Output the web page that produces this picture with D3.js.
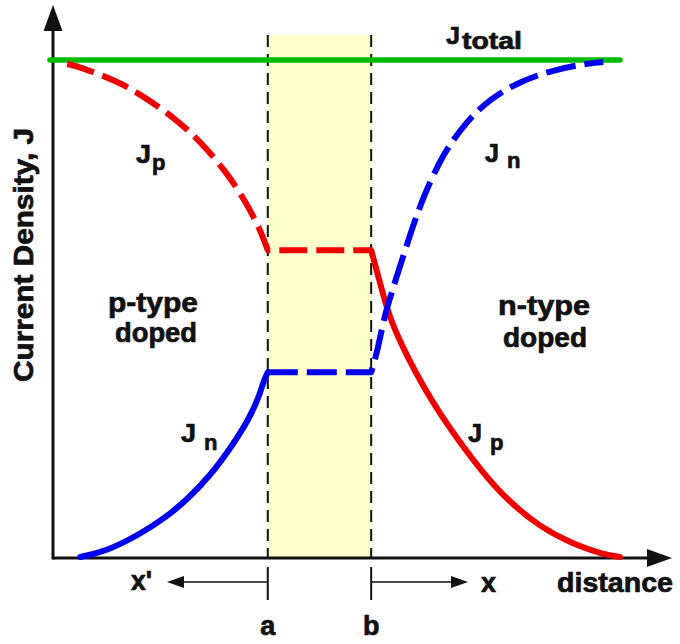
<!DOCTYPE html>
<html lang="en">
<head>
<meta charset="UTF-8">
<title>Current Density</title>
<script src="https://d3js.org/d3.v7.min.js"></script>
<style>
  html, body { margin: 0; padding: 0; background: #fff; }
  svg text { font-family: "Liberation Sans", Arial, Helvetica, sans-serif; font-weight: bold; fill: #111; stroke: #111; stroke-width: 0.7; }
</style>
</head>
<body>
<div id="chart"></div>
<script>
// boundaries of the depletion region (a, b) on the distance axis
const edges = [34.7, 51.4];
const edgeNames = ["a", "b"];

// total current density (constant)
const jTotal = 1.0;
const totalSpan = [-0.5, 91.6];

// J_p : hole current, p side (dashed), inside region, n side (solid)
const jpLeft = [[2.3,0.992],[4.4,0.986],[10.3,0.958],[14.5,0.928],[19.4,0.886],[23.7,0.838],[28.1,0.774],[31.3,0.712],[33.4,0.660],[34.1,0.638],[34.7,0.618]];
const jpMid = 0.618;
const jpRight = [[51.4,0.618],[53.0,0.545],[54.4,0.480],[57.2,0.405],[59.8,0.345],[62.5,0.290],[65.3,0.240],[69.0,0.178],[73.3,0.117],[78.7,0.062],[84.0,0.028],[88.4,0.009],[91.6,0.002]];

// J_n : electron current, p side (solid), inside region, n side (dashed)
const jnLeft = [[4.4,0.002],[8.7,0.014],[14.1,0.048],[18.4,0.083],[21.7,0.118],[25.4,0.165],[29.1,0.228],[31.8,0.282],[33.4,0.328],[34.0,0.355],[34.7,0.373]];
const jnMid = 0.373;
const jnRight = [[51.4,0.373],[52.2,0.405],[53.3,0.470],[54.0,0.505],[55.6,0.568],[57.7,0.650],[59.8,0.725],[63.0,0.812],[66.9,0.878],[70.6,0.922],[75.4,0.957],[80.8,0.980],[86.3,0.993],[88.9,0.996]];

const W = 680, H = 644;
const svg = d3.select("#chart").append("svg")
  .attr("width", W).attr("height", H);

const x = d3.scaleLinear().domain([0, 100]).range([53, 672]);
const y = d3.scaleLinear().domain([0, 1]).range([558, 60]);

const RED = "#ee0000", BLUE = "#0000ee", GREEN = "#00bb00", BAND = "#ffffcc";

// depletion region band
svg.append("rect")
  .attr("x", x(edges[0])).attr("y", 35)
  .attr("width", x(edges[1]) - x(edges[0]) + 1)
  .attr("height", y(0) - 35)
  .attr("fill", BAND);

// dashed boundary lines
svg.selectAll(".edge").data(edges).enter().append("line")
  .attr("class", "edge")
  .attr("x1", d => x(d)).attr("x2", d => x(d))
  .attr("y1", 35).attr("y2", y(0))
  .attr("stroke", "#111").attr("stroke-width", 2)
  .attr("stroke-dasharray", "12,7");

// axes
svg.append("line")
  .attr("x1", x(0)).attr("x2", x(100) - 20)
  .attr("y1", y(0)).attr("y2", y(0))
  .attr("stroke", "#111").attr("stroke-width", 3);
svg.append("line")
  .attr("x1", x(0)).attr("x2", x(0))
  .attr("y1", y(0) + 1.5).attr("y2", 25)
  .attr("stroke", "#111").attr("stroke-width", 3);
svg.append("path")
  .attr("d", `M${x(0)},5 L${x(0) + 9.5},31 L${x(0) - 9.5},31 Z`)
  .attr("fill", "#111");
svg.append("path")
  .attr("d", `M${x(100)},${y(0)} L${x(100) - 25},${y(0) - 9} L${x(100) - 25},${y(0) + 9} Z`)
  .attr("fill", "#111");

// line generators
const curve = d3.line().x(d => x(d[0])).y(d => y(d[1])).curve(d3.curveBasis);
const straight = d3.line().x(d => x(d[0])).y(d => y(d[1]));

// J total
svg.append("path")
  .attr("d", straight(totalSpan.map(v => [v, jTotal])))
  .attr("stroke", GREEN).attr("stroke-width", 5.5)
  .attr("stroke-linecap", "round").attr("fill", "none");

// J_p dashed (p side + region)
svg.append("path")
  .attr("d", curve(jpLeft) + "L" + x(edges[1]) + "," + y(jpMid))
  .attr("stroke", RED).attr("stroke-width", 6).attr("fill", "none")
  .attr("stroke-linejoin", "round")
  .attr("stroke-dasharray", "28,9");
// J_p solid (n side)
svg.append("path")
  .attr("d", curve(jpRight))
  .attr("stroke", RED).attr("stroke-width", 6).attr("fill", "none")
  .attr("stroke-linejoin", "round").attr("stroke-linecap", "round");

// J_n solid (p side)
svg.append("path")
  .attr("d", curve(jnLeft))
  .attr("stroke", BLUE).attr("stroke-width", 6).attr("fill", "none")
  .attr("stroke-linejoin", "round").attr("stroke-linecap", "round");
// J_n dashed (region + n side)
svg.append("path")
  .attr("d", "M" + x(edges[0]) + "," + y(jnMid) + "L" + curve(jnRight).slice(1))
  .attr("stroke", BLUE).attr("stroke-width", 6).attr("fill", "none")
  .attr("stroke-linejoin", "round")
  .attr("stroke-dasharray", "30,9");

// ticks under the axis at a and b, and direction arrows
svg.selectAll(".tick").data(edges).enter().append("line")
  .attr("x1", d => x(d)).attr("x2", d => x(d))
  .attr("y1", 567).attr("y2", 600)
  .attr("stroke", "#111").attr("stroke-width", 2);
svg.append("line")
  .attr("x1", x(edges[0])).attr("x2", 180).attr("y1", 582).attr("y2", 582)
  .attr("stroke", "#111").attr("stroke-width", 1.5);
svg.append("path").attr("d", "M167,582 L184,576 L184,588 Z").attr("fill", "#111");
svg.append("line")
  .attr("x1", x(edges[1])).attr("x2", 455).attr("y1", 582).attr("y2", 582)
  .attr("stroke", "#111").attr("stroke-width", 1.5);
svg.append("path").attr("d", "M468,582 L451,576 L451,588 Z").attr("fill", "#111");

// text helper
function label(tx, ty, str, size, len, anchor) {
  const t = svg.append("text")
    .attr("x", tx).attr("y", ty)
    .attr("font-size", size)
    .attr("text-anchor", anchor || "start")
    .text(str);
  if (len) t.attr("textLength", len).attr("lengthAdjust", "spacingAndGlyphs");
  return t;
}

svg.selectAll(".edgeName").data(edges).enter().append("text")
  .attr("x", d => x(d)).attr("y", 635)
  .attr("font-size", 27).attr("text-anchor", "middle")
  .text((d, i) => edgeNames[i]);

label(131, 590, "x'", 27, 21);
label(481, 592, "x", 27, 15);
label(557, 592, "distance", 27, 116);

svg.append("text")
  .attr("transform", "translate(33,255) rotate(-90)")
  .attr("font-size", 27).attr("text-anchor", "middle")
  .attr("textLength", 254).attr("lengthAdjust", "spacingAndGlyphs")
  .text("Current Density, J");

label(153, 312, "p-type", 27, 90, "middle");
label(156, 342, "doped", 27, 82, "middle");
label(544, 315, "n-type", 27, 92, "middle");
label(545, 347, "doped", 27, 84, "middle");

// J labels with subscripts
label(136, 163, "J", 25, 15);
label(152, 170, "p", 22);
label(485, 162, "J", 25, 14);
label(507, 168, "n", 22);
label(181, 442, "J", 25, 15);
label(204, 450, "n", 22);
label(468, 442, "J", 25, 14);
label(490, 450, "p", 22);
label(446, 44, "J", 23, 14);
label(462, 49, "total", 23, 60);
</script>
</body>
</html>
